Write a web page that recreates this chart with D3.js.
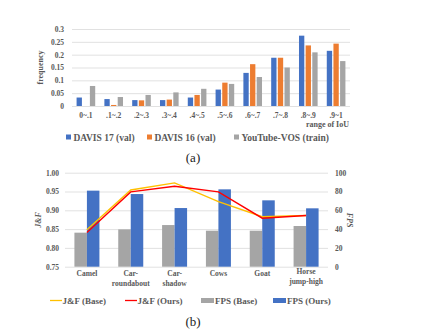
<!DOCTYPE html>
<meta charset="utf-8">
<body style="margin:0;background:#fff">
<style>
    text { font-family: "Liberation Serif", "Times New Roman", serif; fill: #595959; font-weight: bold; }
    .grid line { stroke: #d9d9d9; stroke-width: 0.8; }
    .grid .domain { display: none; }
    .tick-lab text { font-size: 7.5px; }
    .caption { font-size: 13px; font-weight: normal; fill: #222; }
</style>
<script src="https://d3js.org/d3.v7.min.js"></script>
<script>
    // (a) IoU histogram data
    const iouBins = ["0~.1", ".1~.2", ".2~.3", ".3~.4", ".4~.5", ".5~.6", ".6~.7", ".7~.8", ".8~.9", ".9~1"];
    const davis17 = [0.033, 0.027, 0.023, 0.023, 0.033, 0.064, 0.129, 0.188, 0.274, 0.215];
    const davis16 = [0.000, 0.004, 0.022, 0.025, 0.043, 0.091, 0.163, 0.188, 0.236, 0.243];
    const ytvos   = [0.078, 0.035, 0.043, 0.053, 0.067, 0.086, 0.113, 0.150, 0.209, 0.175];
    const freqTicks = [0, 0.05, 0.1, 0.15, 0.2, 0.25, 0.3];

    // (b) per-sequence J&F and FPS
    const sequences = [["Camel"], ["Car-", "roundabout"], ["Car-", "shadow"], ["Cows"], ["Goat"], ["Horse", "jump-high"]];
    const jfBase = [0.848, 0.954, 0.973, 0.923, 0.883, 0.886];
    const jfOurs = [0.841, 0.949, 0.964, 0.949, 0.879, 0.886];
    const fpsBase = [36.2, 39.7, 44.3, 38.3, 38.3, 43.3];
    const fpsOurs = [80.9, 77.3, 62.4, 82.3, 70.6, 62.1];
    const jfTicks = [0.75, 0.80, 0.85, 0.90, 0.95, 1.00];
    const fpsTicks = [0, 20, 40, 60, 80, 100];

    const BLUE = "#4472c4", ORANGE = "#ed7d31", GRAY = "#a5a5a5", GOLD = "#ffc000", RED = "#ff0000";

    const svg = d3.select("body").append("svg")
        .attr("width", 428)
        .attr("height", 334);

    // ---------- (a) ----------
    const a = {left: 72, right: 350, top: 29, bottom: 106};
    const xa = d3.scaleBand().domain(iouBins).range([a.left, a.right]).paddingInner(0.33).paddingOuter(0.165);
    const ya = d3.scaleLinear().domain([0, 0.3]).range([a.bottom, a.top]);
    const xs = d3.scaleBand().domain([0, 1, 2]).range([0, xa.bandwidth()]).paddingInner(0.2);

    svg.append("g").attr("class", "grid")
        .attr("transform", `translate(${a.left},0)`)
        .call(d3.axisLeft(ya).tickValues(freqTicks).tickSize(-(a.right - a.left)).tickFormat(""));

    svg.append("g").attr("class", "tick-lab")
        .attr("transform", `translate(${a.left - 5},0)`)
        .call(d3.axisLeft(ya).tickValues(freqTicks).tickSize(0).tickPadding(3).tickFormat(d => String(d)))
        .call(g => g.select(".domain").remove());

    const series = [davis17, davis16, ytvos];
    const colsA = [BLUE, ORANGE, GRAY];
    series.forEach((vals, si) => {
        svg.append("g").selectAll("rect")
            .data(iouBins)
            .join("rect")
            .attr("x", d => xa(d) + xs(si))
            .attr("width", xs.bandwidth())
            .attr("y", (d, i) => ya(vals[i]))
            .attr("height", (d, i) => a.bottom - ya(vals[i]))
            .attr("fill", colsA[si]);
    });

    svg.append("g").attr("class", "tick-lab")
        .attr("transform", `translate(0,${a.bottom + 4})`)
        .call(d3.axisBottom(xa).tickSize(0).tickPadding(3))
        .call(g => g.select(".domain").remove());

    svg.append("text").attr("x", a.right - 1).attr("y", 127)
        .attr("text-anchor", "end").attr("font-size", 8).text("range of  IoU");

    svg.append("text")
        .attr("transform", `translate(43,${(a.top + a.bottom) / 2}) rotate(-90)`)
        .attr("text-anchor", "middle").attr("font-size", 8).text("frequency");

    const legA = [["DAVIS 17 (val)", BLUE, 66], ["DAVIS 16 (val)", ORANGE, 147], ["YouTube-VOS (train)", GRAY, 234]];
    legA.forEach(([lab, c, x]) => {
        svg.append("rect").attr("x", x).attr("y", 134.5).attr("width", 5).attr("height", 5).attr("fill", c);
        svg.append("text").attr("x", x + 7.5).attr("y", 140.5).attr("font-size", 9.5).text(lab);
    });

    svg.append("text").attr("class", "caption").attr("x", 193).attr("y", 162)
        .attr("text-anchor", "middle").text("(a)");

    // ---------- (b) ----------
    const b = {left: 65, right: 328, top: 172.7, bottom: 266.7};
    const xb = d3.scaleBand().domain(d3.range(sequences.length)).range([b.left, b.right]);
    const yj = d3.scaleLinear().domain([0.75, 1.0]).range([b.bottom, b.top]);
    const yf = d3.scaleLinear().domain([0, 100]).range([b.bottom, b.top]);
    const barW = 12.5;

    svg.append("g").attr("class", "grid")
        .attr("transform", `translate(${b.left},0)`)
        .call(d3.axisLeft(yj).tickValues(jfTicks).tickSize(-(b.right - b.left)).tickFormat(""));

    svg.append("g").attr("class", "tick-lab")
        .attr("transform", `translate(${b.left - 3},0)`)
        .call(d3.axisLeft(yj).tickValues(jfTicks).tickSize(0).tickPadding(3).tickFormat(d3.format(".2f")))
        .call(g => g.select(".domain").remove());

    svg.append("g").attr("class", "tick-lab")
        .attr("transform", `translate(${b.right + 4},0)`)
        .call(d3.axisRight(yf).tickValues(fpsTicks).tickSize(0).tickPadding(3))
        .call(g => g.select(".domain").remove());

    const cx = i => xb(i) + xb.bandwidth() / 2;

    svg.append("g").selectAll("rect")
        .data(fpsBase).join("rect")
        .attr("x", (d, i) => cx(i) - barW).attr("width", barW)
        .attr("y", d => yf(d)).attr("height", d => b.bottom - yf(d))
        .attr("fill", GRAY);

    svg.append("g").selectAll("rect")
        .data(fpsOurs).join("rect")
        .attr("x", (d, i) => cx(i)).attr("width", barW)
        .attr("y", d => yf(d)).attr("height", d => b.bottom - yf(d))
        .attr("fill", BLUE);

    const line = d3.line().x((d, i) => cx(i)).y(d => yj(d));
    svg.append("path").datum(jfBase).attr("d", line)
        .attr("fill", "none").attr("stroke", GOLD).attr("stroke-width", 1.4);
    svg.append("path").datum(jfOurs).attr("d", line)
        .attr("fill", "none").attr("stroke", RED).attr("stroke-width", 1.4);

    // multi-line category labels
    sequences.forEach((lines, i) => {
        const t = svg.append("text").attr("text-anchor", "middle").attr("font-size", 7.5)
            .attr("x", cx(i)).attr("y", lines.length > 1 && i === 5 ? 274 : 276);
        lines.forEach((l, k) => t.append("tspan").attr("x", cx(i)).attr("dy", k ? 9.5 : 0).text(l));
    });

    svg.append("text")
        .attr("transform", `translate(41,220) rotate(-90)`)
        .attr("text-anchor", "middle").attr("font-size", 8).attr("font-style", "italic").text("J&F");
    svg.append("text")
        .attr("transform", `translate(347,220) rotate(90)`)
        .attr("text-anchor", "middle").attr("font-size", 8).attr("font-style", "italic").text("FPS");

    const legB = [["J&F (Base)", GOLD, 50, "line"], ["J&F (Ours)", RED, 125, "line"],
                  ["FPS (Base)", GRAY, 201, "rect"], ["FPS (Ours)", BLUE, 273, "rect"]];
    legB.forEach(([lab, c, x, kind]) => {
        if (kind === "line") {
            svg.append("line").attr("x1", x).attr("x2", x + 12).attr("y1", 300.5).attr("y2", 300.5)
                .attr("stroke", c).attr("stroke-width", 1.3);
        } else {
            svg.append("rect").attr("x", x).attr("y", 298).attr("width", 13).attr("height", 5).attr("fill", c);
        }
        svg.append("text").attr("x", x + (kind === "line" ? 12.5 : 14)).attr("y", 303.5).attr("font-size", 9).text(lab);
    });

    svg.append("text").attr("class", "caption").attr("x", 193).attr("y", 326)
        .attr("text-anchor", "middle").text("(b)");
</script>
</body>
